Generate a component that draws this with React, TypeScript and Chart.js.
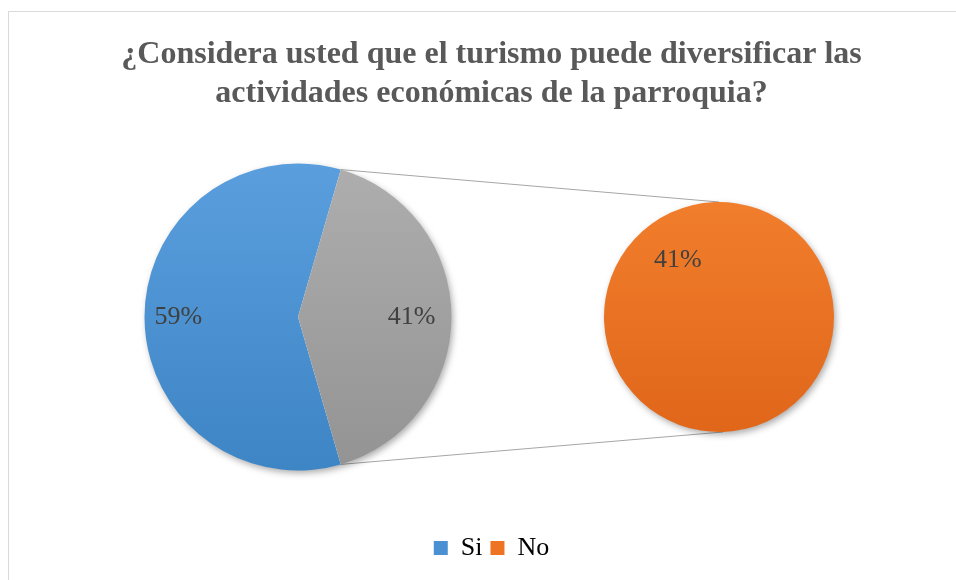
import React, { useEffect, useRef } from "react";
import { Chart, registerables } from "chart.js";

Chart.register(...registerables);

// ---- data ----
const categories = ["Si", "No"];
const primaryValues = [59, 41];
const secondaryLabels = ["No"];
const secondaryValues = [41];
const titleLines = [
  "¿Considera usted que el turismo puede diversificar las",
  "actividades económicas de la parroquia?",
];

// ---- style ----
const FONT = "'Liberation Serif', 'Times New Roman', serif";
const BLUE: [string, string] = ["#5a9edd", "#3e85c5"];
const GRAY: [string, string] = ["#aeaeae", "#939393"];
const ORANGE: [string, string] = ["#f17e2c", "#e0661a"];
const LEGEND_COLORS = ["#4a90d2", "#ec7422"];

function vGrad(chart: any, c: [string, string]) {
  const area = chart.chartArea;
  if (!area) return c[0];
  const g = chart.ctx.createLinearGradient(0, area.top, 0, area.bottom);
  g.addColorStop(0, c[0]);
  g.addColorStop(1, c[1]);
  return g;
}

function labelPlugin(radii: number[], total: number) {
  return {
    id: "pctLabels",
    afterDatasetsDraw(chart: any) {
      const meta = chart.getDatasetMeta(0);
      const data = chart.data.datasets[0].data as number[];
      const ctx = chart.ctx;
      ctx.save();
      ctx.font = `26px ${FONT}`;
      ctx.fillStyle = "#404040";
      ctx.textAlign = "center";
      ctx.textBaseline = "middle";
      meta.data.forEach((arc: any, i: number) => {
        const { x, y, startAngle, endAngle, outerRadius } = arc;
        const mid = (startAngle + endAngle) / 2;
        const f = radii[i] ?? 0.7;
        const txt = Math.round((data[i] / total) * 100) + "%";
        ctx.fillText(txt, x + Math.cos(mid) * outerRadius * f, y + Math.sin(mid) * outerRadius * f);
      });
      ctx.restore();
    },
  };
}

const shadowPlugin = {
  id: "pieShadow",
  beforeDatasetsDraw(chart: any) {
    const arc = chart.getDatasetMeta(0).data[0];
    if (!arc) return;
    const { x, y, outerRadius } = arc;
    const ctx = chart.ctx;
    ctx.save();
    ctx.shadowColor = "rgba(0,0,0,0.35)";
    ctx.shadowBlur = 7;
    ctx.shadowOffsetX = 2;
    ctx.shadowOffsetY = 3;
    ctx.beginPath();
    ctx.arc(x, y, outerRadius - 0.5, 0, Math.PI * 2);
    ctx.fillStyle = "#ffffff";
    ctx.fill();
    ctx.restore();
  },
};

export default function App() {
  const mainRef = useRef<HTMLCanvasElement>(null);
  const subRef = useRef<HTMLCanvasElement>(null);

  useEffect(() => {
    if (!mainRef.current || !subRef.current) return;
    const total = primaryValues.reduce((a, b) => a + b, 0);
    const otherShare = primaryValues[1] / total;

    const sub = new Chart(subRef.current, {
      type: "pie",
      data: {
        labels: secondaryLabels,
        datasets: [
          {
            data: secondaryValues,
            backgroundColor: (c: any) => vGrad(c.chart, ORANGE),
            borderWidth: 0,
          },
        ],
      },
      options: {
        responsive: false,
        animation: false,
        events: [],
        rotation: 144,
        layout: { padding: 10 },
        plugins: { legend: { display: false }, title: { display: false }, tooltip: { enabled: false } },
      },
      plugins: [shadowPlugin, labelPlugin([0.61], total)],
    });

    const pieArea = {
      id: "pieArea",
      afterLayout(chart: any) {
        const cx = 289, cy = 305, r = 153.5;
        chart.chartArea = { left: cx - r, top: cy - r, right: cx + r, bottom: cy + r, width: 2 * r, height: 2 * r };
      },
    };

    const connectors = {
      id: "connectors",
      beforeDatasetsDraw(chart: any) {
        const g = chart.getDatasetMeta(0).data[1];
        const s = sub.getDatasetMeta(0).data[0] as any;
        if (!g || !s) return;
        const ox = subRef.current!.offsetLeft - mainRef.current!.offsetLeft;
        const oy = subRef.current!.offsetTop - mainRef.current!.offsetTop;
        const ctx = chart.ctx;
        const p1 = [g.x + Math.cos(g.startAngle) * g.outerRadius, g.y + Math.sin(g.startAngle) * g.outerRadius];
        const p2 = [g.x + Math.cos(g.endAngle) * g.outerRadius, g.y + Math.sin(g.endAngle) * g.outerRadius];
        const q1 = [ox + s.x, oy + s.y - s.outerRadius];
        const q2 = [ox + s.x + 4, oy + s.y + s.outerRadius];
        ctx.save();
        ctx.strokeStyle = "#a6a6a6";
        ctx.lineWidth = 1;
        ctx.beginPath();
        ctx.moveTo(p1[0], p1[1]);
        ctx.lineTo(q1[0], q1[1]);
        ctx.moveTo(p2[0], p2[1]);
        ctx.lineTo(q2[0], q2[1]);
        ctx.stroke();
        ctx.restore();
      },
    };

    const main = new Chart(mainRef.current, {
      type: "pie",
      data: {
        labels: categories,
        datasets: [
          {
            data: primaryValues,
            backgroundColor: (c: any) => vGrad(c.chart, c.dataIndex === 0 ? BLUE : GRAY),
            borderWidth: 0,
            clip: false as any,
          },
        ],
      },
      options: {
        responsive: false,
        animation: false,
        events: [],
        rotation: 90 + otherShare * 180,
        layout: { padding: { left: 18, bottom: 1 } },
        plugins: {
          tooltip: { enabled: false },
          title: {
            display: true,
            text: titleLines,
            color: "#595959",
            font: { family: FONT, size: 32, weight: "bold", lineHeight: 1.2 },
            padding: { top: 24, bottom: 10 },
          },
          legend: {
            display: true,
            position: "bottom",
            onClick: () => {},
            labels: {
              color: "#595959",
              font: { family: FONT, size: 26 },
              boxWidth: 14,
              boxHeight: 14,
              padding: 8,
              generateLabels: () =>
                categories.map((c, i) => ({
                  text: c,
                  fillStyle: LEGEND_COLORS[i],
                  strokeStyle: LEGEND_COLORS[i],
                  lineWidth: 0,
                  hidden: false,
                  index: i,
                  datasetIndex: 0,
                })),
            },
          },
        },
      },
      plugins: [pieArea, connectors, shadowPlugin, labelPlugin([0.78, 0.74], total)],
    });

    return () => {
      main.destroy();
      sub.destroy();
    };
  }, []);

  return (
    <div
      style={{
        position: "absolute",
        left: 8,
        top: 11,
        width: 948,
        height: 569,
        borderTop: "1px solid #d9d9d9",
        borderLeft: "1px solid #d9d9d9",
        boxSizing: "border-box",
        background: "#ffffff",
        overflow: "hidden",
      }}
    >
      <canvas
        ref={mainRef}
        width={947}
        height={560}
        style={{ position: "absolute", left: 0, top: 0, width: 947, height: 560 }}
      />
      <canvas
        ref={subRef}
        width={250}
        height={250}
        style={{ position: "absolute", left: 585, top: 180, width: 250, height: 250 }}
      />
    </div>
  );
}
